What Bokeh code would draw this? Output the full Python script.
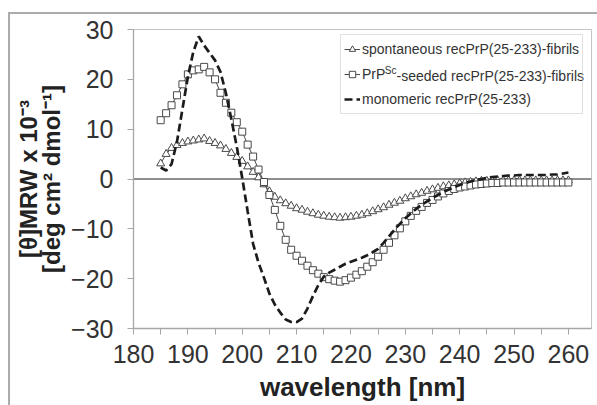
from bokeh.plotting import figure
from bokeh.models import Span, Label, Legend, LegendItem, FixedTicker
from bokeh.embed import file_html
from bokeh.resources import INLINE

# ---------------- data ----------------
wavelength = list(range(185, 261))

spontaneous = [
    3.1, 5.0, 6.2, 6.8, 7.2, 7.5, 7.7, 7.9, 8.1, 7.6,
    7.2, 6.7, 6.0, 5.2, 4.4, 3.6, 2.5, 1.4, 0.3, -1.1,
    -2.5, -3.6, -4.3, -4.9, -5.4, -5.9, -6.2, -6.6, -6.9, -7.2,
    -7.4, -7.6, -7.7, -7.8, -7.7, -7.6, -7.4, -7.2, -6.9, -6.5,
    -6.1, -5.7, -5.2, -4.8, -4.4, -3.9, -3.5, -3.1, -2.8, -2.4,
    -2.1, -1.8, -1.5, -1.3, -1.1, -0.9, -0.7, -0.6, -0.5, -0.4,
    -0.4, -0.4, -0.3, -0.3, -0.3, -0.3, -0.3, -0.3, -0.3, -0.3,
    -0.3, -0.3, -0.3, -0.3, -0.3, -0.3,
]

seeded = [
    11.8, 13.2, 14.8, 16.8, 19.0, 21.0, 21.8, 22.0, 22.5, 21.4,
    20.0, 17.3, 15.3, 13.3, 11.4, 9.5, 6.9, 4.5, 1.9, -0.6,
    -3.2, -6.2, -9.4, -12.2, -14.2, -15.4, -16.4, -17.4, -18.3, -19.0,
    -19.7, -20.1, -20.4, -20.6, -20.3, -19.8, -19.2, -18.5, -17.6, -16.7,
    -15.6, -14.2, -12.8, -11.3, -9.9, -8.5, -7.4, -6.4, -5.6, -4.8,
    -4.2, -3.5, -2.9, -2.4, -2.0, -1.7, -1.5, -1.3, -1.1, -1.0,
    -0.9, -0.8, -0.8, -0.7, -0.7, -0.7, -0.7, -0.7, -0.7, -0.7,
    -0.7, -0.7, -0.7, -0.7, -0.7, -0.7,
]

monomeric = [
    2.3, 1.7, 3.0, 7.5, 14.0, 20.5, 25.5, 28.6, 26.8, 25.3,
    23.8, 21.5, 17.2, 12.0, 6.5, 0.2, -6.5, -13.0, -16.8, -19.8,
    -23.0, -25.2, -26.8, -28.2, -28.7, -28.7, -28.0, -26.0, -23.5, -21.3,
    -19.6, -18.8, -18.2, -17.6, -17.0, -16.6, -16.2, -15.8, -15.3, -14.7,
    -14.0, -12.8, -11.5, -10.2, -9.0, -7.9, -6.9, -6.0, -5.2, -4.5,
    -3.8, -3.2, -2.6, -2.1, -1.6, -1.2, -0.8, -0.5, -0.2, 0.0,
    0.2, 0.4, 0.5, 0.6, 0.7, 0.7, 0.8, 0.8, 0.8, 0.8,
    0.8, 0.8, 0.9, 0.9, 1.1, 1.3,
]

x_ticks = list(range(180, 261, 10))
x_minor = list(range(185, 261, 10))
y_ticks = [-30, -20, -10, 0, 10, 20, 30]

series_labels = ["spontaneous recPrP(25-233)-fibrils",
                 "PrP", "Sc", "-seeded recPrP(25-233)-fibrils",
                 "monomeric recPrP(25-233)"]
ylabel = "[\u03b8]MRW x 10\u207b\u00b3\n[deg cm\u00b2 dmol\u207b\u00b9]"
xlabel = "wavelength [nm]"

FONT = "Liberation Sans"
TXT = "#333333"
AX = "#a6a6a6"
BORDER = "2px solid #ababab"

# page: figure box starts at x=8, y=12 (border 2px, border-box sizing)
p = figure(width=589, height=393, x_range=(180, 264.25), y_range=(-30, 30),
           output_backend="svg", toolbar_location=None,
           min_border_left=123, min_border_right=8, min_border_top=15,
           min_border_bottom=79)
p.styles = {"border-top": BORDER, "border-left": BORDER,
            "margin-top": "12px", "margin-left": "8px"}
p.background_fill_color = "white"
p.border_fill_color = "white"
p.outline_line_color = "#c4c4c4"
p.outline_line_width = 1
p.grid.visible = False

p.xaxis.ticker = FixedTicker(ticks=x_ticks, minor_ticks=x_minor)
p.yaxis.ticker = FixedTicker(ticks=y_ticks, minor_ticks=[])
for ax in (p.xaxis, p.yaxis):
    ax.axis_line_color = AX
    ax.axis_line_width = 1.3
    ax.major_tick_line_color = AX
    ax.minor_tick_line_color = AX
    ax.major_tick_in = 0
    ax.major_tick_out = 6
    ax.minor_tick_in = 0
    ax.minor_tick_out = 6
    ax.major_label_text_font = FONT
    ax.major_label_text_font_size = "25px"
    ax.major_label_text_color = TXT
p.xaxis.major_label_standoff = 10
p.yaxis.major_label_standoff = 14
p.xaxis.axis_label = xlabel
p.xaxis.axis_label_text_font = FONT
p.xaxis.axis_label_text_font_size = "26px"
p.xaxis.axis_label_text_font_style = "bold"
p.xaxis.axis_label_text_color = "#222222"
p.xaxis.axis_label_standoff = 6

p.yaxis.axis_label = ylabel
p.yaxis.axis_label_text_font = FONT
p.yaxis.axis_label_text_font_size = "24px"
p.yaxis.axis_label_text_font_style = "bold"
p.yaxis.axis_label_text_color = "#222222"
p.yaxis.axis_label_text_line_height = 0.85
p.yaxis.axis_label_standoff = 3

p.add_layout(Span(location=0, dimension="width", line_color="#6a6a6a",
                  line_width=1.5, level="underlay"))

LC = "#4a4a4a"
r1l = p.line(wavelength, spontaneous, line_color=LC, line_width=1)
r1s = p.scatter(wavelength, spontaneous, marker="triangle", size=8,
                line_color=LC, line_width=1, fill_color="white")
r2l = p.line(wavelength, seeded, line_color=LC, line_width=1)
r2s = p.scatter(wavelength, seeded, marker="square", size=7,
                line_color=LC, line_width=1, fill_color="white")
r3 = p.line(wavelength, monomeric, line_color="#1c1c1c", line_width=2.7,
            line_dash="8 4")

LEG_SIZE = 14
legend = Legend(items=[
    LegendItem(label=series_labels[0], renderers=[r1l, r1s]),
    LegendItem(label=series_labels[1], renderers=[r2l, r2s]),
    LegendItem(label=series_labels[4], renderers=[r3]),
], location=(207, 214), padding=3, spacing=3, glyph_width=16, glyph_height=22,
    label_height=22, label_standoff=2, label_text_font=FONT,
    label_text_font_size=f"{LEG_SIZE}px", label_text_color=TXT,
    border_line_color="#c4c4c4", background_fill_alpha=0, margin=0)
p.add_layout(legend)

prp_w = (667 + 333 + 667) * LEG_SIZE / 1000.0
sc_w = (667 + 500) * 10 / 1000.0
x_text = 207 + 3 + 16 + 2
row2_y = 214 + 78 - 3 - 22 - 3 - 11
p.add_layout(Label(x=x_text + prp_w, y=row2_y + 5, x_units="screen", y_units="screen",
                   text=series_labels[2], text_font=FONT, text_font_size="10px",
                   text_color=TXT, text_baseline="middle", text_align="left"))
p.add_layout(Label(x=x_text + prp_w + sc_w, y=row2_y, x_units="screen", y_units="screen",
                   text=series_labels[3], text_font=FONT,
                   text_font_size=f"{LEG_SIZE}px", text_color=TXT,
                   text_baseline="middle", text_align="left"))

open("out.html", "w").write(file_html(p, INLINE))
